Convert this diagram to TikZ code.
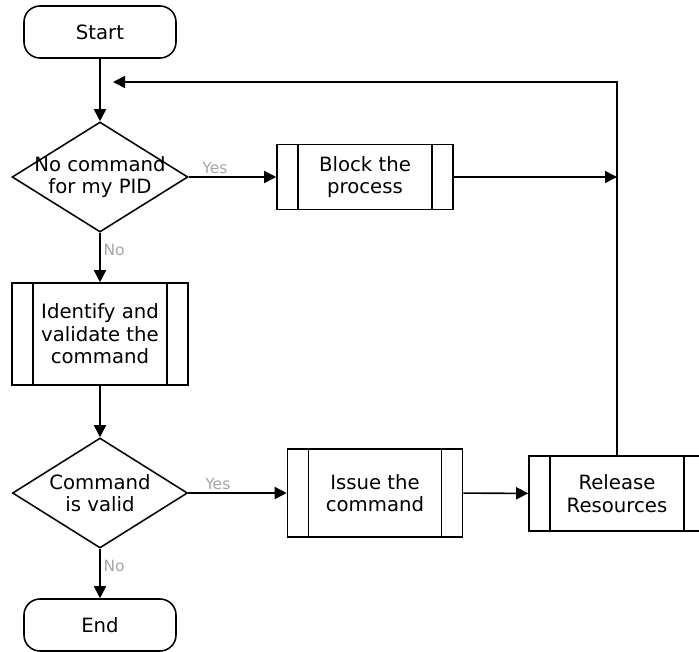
\documentclass[tikz,border=0pt]{standalone}
\usepackage{fontspec}
\setmainfont{DejaVu Sans}
\usepackage{tikz}
\usetikzlibrary{shapes.geometric, arrows.meta, positioning, calc}
\tikzstyle{arrow}      = [line width=1.1pt,-{Triangle[length=0.3cm,width=0.3cm]}]
\tikzstyle{answer}     = [font=\fontsize{11}{12}\selectfont, text=gray!70, inner sep=2pt]

\begin{document}
\begin{tikzpicture}[x=0.025cm, y=-0.025cm, line width=1.1pt,
    every node/.style={font=\fontsize{14}{16}\selectfont},
    term/.style={rectangle, rounded corners=0.4cm, draw, minimum width=3.8cm,
                 minimum height=1.3cm, text centered},
    decide/.style={diamond, draw, aspect=1.6, inner sep=-3pt, minimum width=4.375cm,
                   minimum height=2.75cm, align=center},
    proc/.style={rectangle, draw, align=center, inner sep=0pt,
                 path picture={
                   \draw ([xshift=0.525cm]path picture bounding box.north west)
                      -- ([xshift=0.525cm]path picture bounding box.south west);
                   \draw ([xshift=-0.525cm]path picture bounding box.north east)
                      -- ([xshift=-0.525cm]path picture bounding box.south east);}}]

  \useasboundingbox (0,0) rectangle (699,652);

  \node[term]   (start)   at (100, 32)   {Start};
  \node[decide] (nocmd)   at (100,177)   {No command\\for my PID};
  \node[proc, minimum width=4.4cm, minimum height=1.625cm]
                (block)   at (365,177)   {Block the\\process};
  \node[proc, minimum width=4.4cm, minimum height=2.55cm]
                (ident)   at (100,334)   {Identify and\\validate the\\command};
  \node[decide] (valid)   at (100,493)   {Command\\is valid};
  \node[proc, minimum width=4.375cm, minimum height=2.2cm]
                (issue)   at (375,493)   {Issue the\\command};
  \node[proc, minimum width=4.4cm, minimum height=1.875cm]
                (release) at (617,493.5) {Release\\Resources};
  \node[term]   (stop)    at (100,625)   {End};
  \coordinate   (back)    at (113, 82);

  \draw[arrow] (start)--(nocmd);
  \draw[arrow] (nocmd)--(block)   node[pos=0.3,above,answer]{Yes};
  \draw[arrow] (nocmd)--(ident)   node[pos=0.35,right,answer]{No};
  \draw[arrow] (ident)--(valid);
  \draw[arrow] (valid)--(issue)   node[pos=0.3,above,answer]{Yes};
  \draw[arrow] (valid)--(stop)    node[pos=0.35,right,answer]{No};
  \draw[arrow] (issue)--(release);
  \draw[arrow] (block.east)--(block.east -| release.north);
  \draw[arrow] (release.north)--(release.north |- back)--(back);
\end{tikzpicture}
\end{document}
